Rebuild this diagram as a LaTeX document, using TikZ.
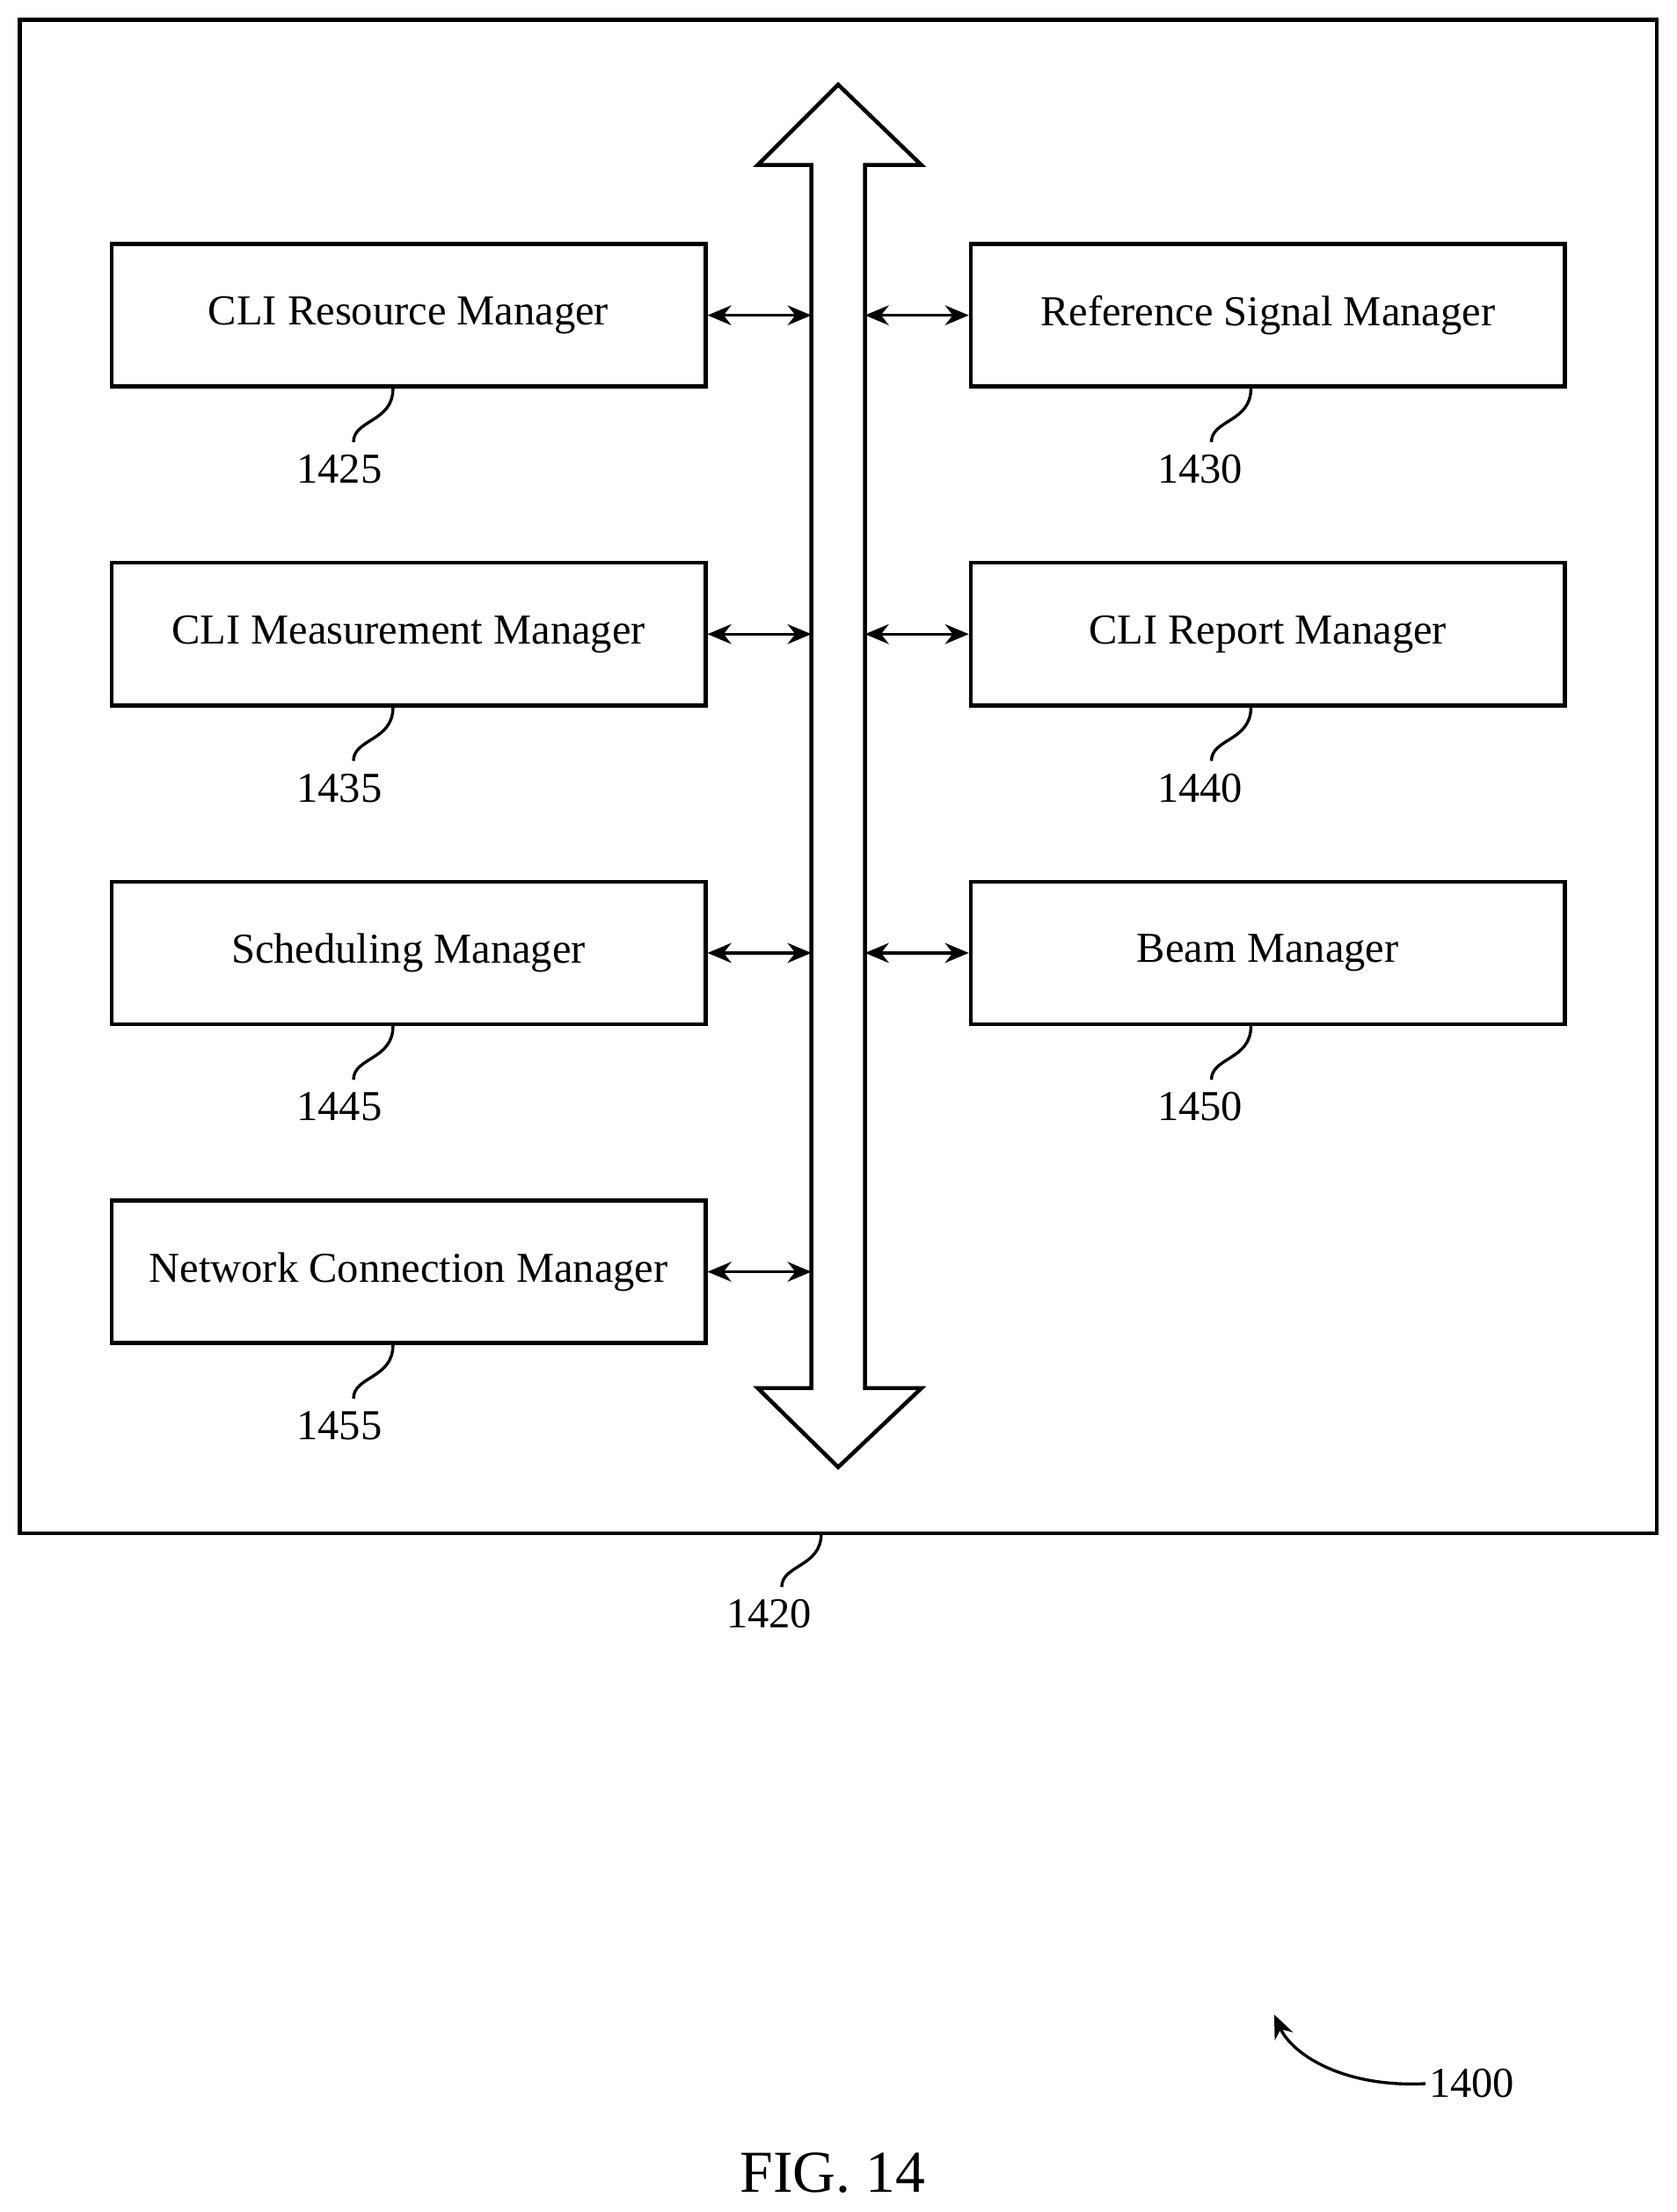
\documentclass[tikz,border=0pt]{standalone}
\usepackage{fontspec}
\setmainfont{Liberation Serif}
\usetikzlibrary{positioning,arrows.meta}
\tikzset{
	mgr/.style={draw, line width=4pt, minimum width=21.05cm, minimum height=5.05cm, font=\fontsize{43}{50}\selectfont},
	link/.style={line width=3pt, {Stealth[length=24pt,width=20pt]}-{Stealth[length=24pt,width=20pt]}},
	lead/.style={line width=3pt},
	ref/.style={font=\fontsize{43}{50}\selectfont}
}
\begin{document}
\begin{tikzpicture}[x=0.05cm, y=-0.05cm]
		\useasboundingbox (0,0) rectangle (1188,1568);
		\draw[line width=4pt] (14,14) rectangle (1174,1087);
		% bus
		\draw[line width=4pt, line join=miter] (575,984) -- (575,117) -- (537,117) -- (594,60) -- (653,117) -- (613,117) -- (613,984) -- (653,984) -- (594,1040) -- (537,984) -- cycle;
		\coordinate (busL) at (575,0);
		\coordinate (busR) at (613,0);
		% managers
		\node[mgr] (crm) at (289.5,223.5) {CLI Resource Manager};
		\node[mgr] (cmm) at (289.5,449.5) {CLI Measurement Manager};
		\node[mgr] (sm) at (289.5,675.5) {Scheduling Manager};
		\node[mgr] (ncm) at (289.5,901.5) {Network Connection Manager};
		\node[mgr] (rsm) at (898.5,223.5) {Reference Signal Manager};
		\node[mgr] (crpm) at (898.5,449.5) {CLI Report Manager};
		\node[mgr] (bm) at (898.5,675.5) {Beam Manager};
		\foreach \n in {crm,cmm,sm,ncm}
			\draw[link] (\n.east) -- (\n.east -| busL);
		\foreach \n in {rsm,crpm,bm}
			\draw[link] (\n.west) -- (\n.west -| busR);
		% reference numerals
		\foreach \n/\t in {crm/1425,cmm/1435,sm/1445,ncm/1455}{
			\draw[lead] ([xshift=-0.55cm]\n.south) .. controls +(0,24) and +(0,-16) .. ++(-28,38) node[ref, below=8pt, xshift=-0.5cm] (r\t) {\t};
		}
		\foreach \n/\t in {rsm/1430,crpm/1440,bm/1450}{
			\draw[lead] ([xshift=-0.6cm]\n.south) .. controls +(0,24) and +(0,-16) .. ++(-28,38) node[ref, below=8pt, xshift=-0.4cm] (r\t) {\t};
		}
		\coordinate (enc) at (582,1087);
		\draw[lead] (enc) .. controls +(0,24) and +(0,-16) .. ++(-28,38) node[ref, below=8pt, xshift=-0.45cm] (r1420) {1420};
		\node[ref] (r1400) at (1043,1477) {1400};
		\draw[lead, -{Stealth[length=24pt,width=20pt]}] (r1400.west) .. controls (950,1480) and (915,1455) .. (903,1428);
		\node[font=\fontsize{60}{68}\selectfont] (fig) at (590,1540) {FIG. 14};
	\end{tikzpicture}
\end{document}
